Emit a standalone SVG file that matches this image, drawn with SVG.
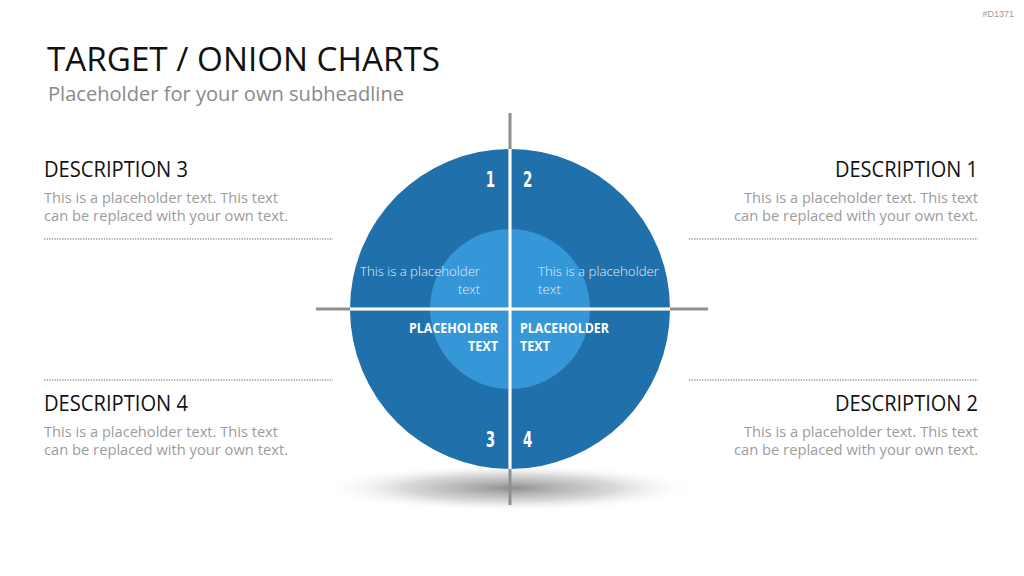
<svg xmlns="http://www.w3.org/2000/svg" width="1024" height="576" viewBox="0 0 1024 576">
<defs>
<radialGradient id="shadow" cx="0.5" cy="0.5" r="0.5">
<stop offset="0" stop-color="#7a7a7a" stop-opacity="0.85"/>
<stop offset="0.55" stop-color="#a8a8a8" stop-opacity="0.45"/>
<stop offset="1" stop-color="#ffffff" stop-opacity="0"/>
</radialGradient>
</defs>
<style>
.title{font-family:"Open Sans","Noto Sans",sans-serif;font-size:33px;fill:#111}
.sub{font-family:"Open Sans","Noto Sans",sans-serif;font-size:20px;fill:#8a8a8a}
.head{font-family:"Open Sans","Noto Sans",sans-serif;font-size:21px;fill:#111}
.body{font-family:"Open Sans","Noto Sans",sans-serif;font-size:15px;fill:#9c9c9c}
.dots{stroke:#9a9a9a;stroke-width:1.3;stroke-dasharray:1.3 1.3;fill:none}
.num{font-family:"DejaVu Sans Condensed","DejaVu Sans",sans-serif;font-size:22px;font-weight:bold;fill:#fff}
.inner{font-family:"Open Sans","Noto Sans",sans-serif;font-size:13.5px;font-weight:300;fill:#e6eef7}
.bold{font-family:"Open Sans","Noto Sans",sans-serif;font-size:13.5px;font-weight:bold;fill:#fff}
.gline{stroke:#8f8f8f;stroke-width:3}
.wline{stroke:#ffffff;stroke-width:3}
</style>
<text x="1014" y="17" text-anchor="end" font-family="Liberation Sans, sans-serif" font-size="9" fill="#9a9a9a">#D1371</text>
<text class="title" x="47" y="71" textLength="393" lengthAdjust="spacingAndGlyphs">TARGET / ONION CHARTS</text>
<text class="sub" x="48" y="101" textLength="356" lengthAdjust="spacingAndGlyphs">Placeholder for your own subheadline</text>

<g id="desc3">
<text class="head" x="44" y="177" textLength="144" lengthAdjust="spacingAndGlyphs">DESCRIPTION 3</text>
<text class="body" x="44" y="203" textLength="234" lengthAdjust="spacingAndGlyphs">This is a placeholder text. This text</text>
<text class="body" x="44" y="221" textLength="244" lengthAdjust="spacingAndGlyphs">can be replaced with your own text.</text>
<line class="dots" x1="44" y1="239" x2="333" y2="239"/>
</g>
<g id="desc4">
<line class="dots" x1="44" y1="380" x2="333" y2="380"/>
<text class="head" x="44" y="411" textLength="144" lengthAdjust="spacingAndGlyphs">DESCRIPTION 4</text>
<text class="body" x="44" y="437" textLength="234" lengthAdjust="spacingAndGlyphs">This is a placeholder text. This text</text>
<text class="body" x="44" y="455" textLength="244" lengthAdjust="spacingAndGlyphs">can be replaced with your own text.</text>
</g>
<g id="desc1">
<text class="head" x="978" y="177" text-anchor="end" textLength="143" lengthAdjust="spacingAndGlyphs">DESCRIPTION 1</text>
<text class="body" x="978" y="203" text-anchor="end" textLength="234" lengthAdjust="spacingAndGlyphs">This is a placeholder text. This text</text>
<text class="body" x="978" y="221" text-anchor="end" textLength="244" lengthAdjust="spacingAndGlyphs">can be replaced with your own text.</text>
<line class="dots" x1="689" y1="239" x2="978" y2="239"/>
</g>
<g id="desc2">
<line class="dots" x1="689" y1="380" x2="978" y2="380"/>
<text class="head" x="978" y="411" text-anchor="end" textLength="143" lengthAdjust="spacingAndGlyphs">DESCRIPTION 2</text>
<text class="body" x="978" y="437" text-anchor="end" textLength="234" lengthAdjust="spacingAndGlyphs">This is a placeholder text. This text</text>
<text class="body" x="978" y="455" text-anchor="end" textLength="244" lengthAdjust="spacingAndGlyphs">can be replaced with your own text.</text>
</g>

<g id="target">
<ellipse cx="510" cy="488" rx="190" ry="24" fill="url(#shadow)"/>
<circle cx="510" cy="309" r="160" fill="#1F70AB"/>
<circle cx="510" cy="309" r="80" fill="#3596D8"/>
</g>
<g id="connectors">
<line class="gline" x1="510" y1="113" x2="510" y2="505"/>
<line class="gline" x1="316" y1="309" x2="708" y2="309"/>
<line class="wline" x1="510" y1="149" x2="510" y2="469"/>
<line class="wline" x1="350" y1="309" x2="670" y2="309"/>
</g>
<g id="labels">
<text class="num" transform="translate(495 187) scale(0.68 1)" text-anchor="end">1</text>
<text class="num" transform="translate(523 187) scale(0.68 1)">2</text>
<text class="num" transform="translate(495 447) scale(0.68 1)" text-anchor="end">3</text>
<text class="num" transform="translate(523 447) scale(0.68 1)">4</text>
<text class="inner" x="480" y="276" text-anchor="end" textLength="120" lengthAdjust="spacingAndGlyphs">This is a placeholder</text>
<text class="inner" x="480" y="294" text-anchor="end" textLength="22" lengthAdjust="spacingAndGlyphs">text</text>
<text class="inner" x="538" y="276" textLength="121" lengthAdjust="spacingAndGlyphs">This is a placeholder</text>
<text class="inner" x="538" y="294" textLength="23" lengthAdjust="spacingAndGlyphs">text</text>
<text class="bold" x="498" y="333" text-anchor="end" textLength="89" lengthAdjust="spacingAndGlyphs">PLACEHOLDER</text>
<text class="bold" x="498" y="351" text-anchor="end" textLength="30" lengthAdjust="spacingAndGlyphs">TEXT</text>
<text class="bold" x="520" y="333" textLength="89" lengthAdjust="spacingAndGlyphs">PLACEHOLDER</text>
<text class="bold" x="520" y="351" textLength="30" lengthAdjust="spacingAndGlyphs">TEXT</text>
</g>
</svg>
